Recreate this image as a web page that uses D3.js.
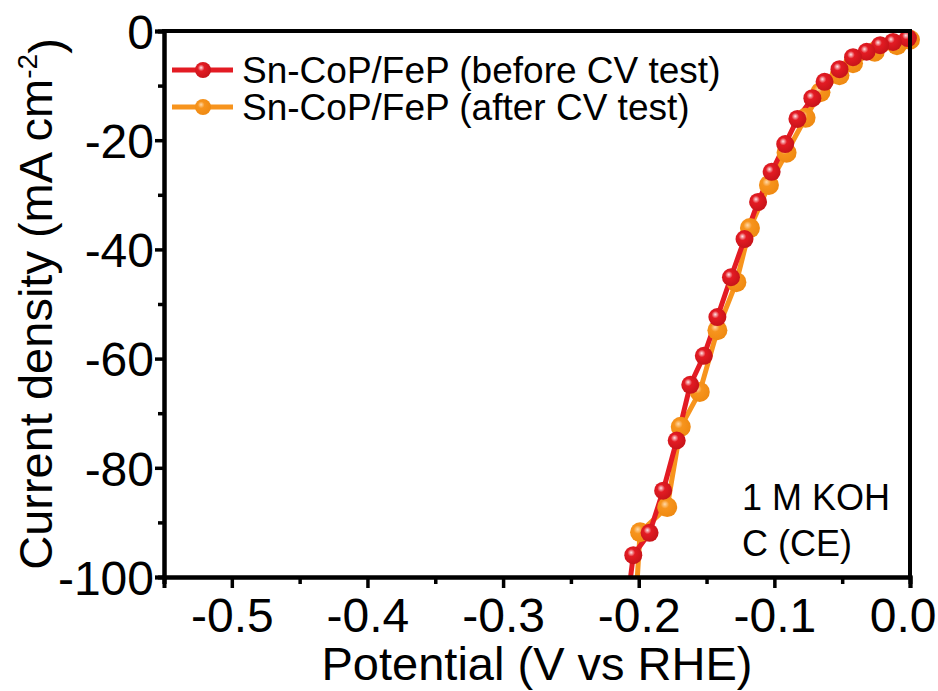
<!DOCTYPE html>
<html>
<head>
<meta charset="utf-8">
<script src="https://cdn.jsdelivr.net/npm/d3@7"></script>
<style>
  body { margin: 0; background: #fff; }
  svg text { font-family: Arial, "Liberation Sans", sans-serif; fill: #000; }
</style>
</head>
<body>
<div id="chart"></div>
<script>
const width = 938;
const height = 691;
const margin = { top: 31, right: 28, bottom: 114, left: 164 };

// Sn-CoP/FeP before CV test (markers), potential V vs RHE / current density mA cm-2
const beforeV = [-0.0015, -0.0125, -0.022, -0.032, -0.042, -0.052, -0.063, -0.072, -0.083, -0.092,
  -0.102, -0.112, -0.122, -0.132, -0.142, -0.152, -0.162, -0.172, -0.182, -0.192, -0.204];
const beforeJ = [-1.3, -2.0, -2.6, -3.8, -4.8, -7.0, -9.3, -12.3, -16.1, -20.7,
  -25.8, -31.3, -38.1, -45.1, -52.4, -59.5, -64.8, -75.0, -84.2, -91.9, -96.0];
const beforeEnd = [-0.206, -100];

// Sn-CoP/FeP after CV test
const afterV = [0.0, -0.0096, -0.026, -0.042, -0.052, -0.066, -0.077, -0.091, -0.104, -0.118,
  -0.128, -0.142, -0.155, -0.169, -0.179, -0.199];
const afterJ = [-1.6, -2.6, -3.8, -5.9, -8.1, -11.2, -15.9, -22.3, -28.2, -36.1,
  -46.0, -54.8, -66.1, -72.5, -87.2, -91.8];
const afterEnd = [-0.201, -100];

const xTicks = [-0.5, -0.4, -0.3, -0.2, -0.1, 0.0];
const yTicks = [0, -20, -40, -60, -80, -100];
const legendLabels = ["Sn-CoP/FeP (before CV test)", "Sn-CoP/FeP (after CV test)"];
const colors = ["#e31b23", "#f7941d"];

const svg = d3.select("#chart")
  .append("svg")
  .attr("width", width)
  .attr("height", height);

const defs = svg.append("defs");

function sphere(id, light, base, dark) {
  const g = defs.append("radialGradient")
    .attr("id", id)
    .attr("cx", "0.4").attr("cy", "0.4").attr("r", "0.6")
    .attr("fx", "0.38").attr("fy", "0.35");
  g.append("stop").attr("offset", "0%").attr("stop-color", light);
  g.append("stop").attr("offset", "35%").attr("stop-color", base);
  g.append("stop").attr("offset", "100%").attr("stop-color", dark);
}
sphere("redBall", "#ffe6e8", "#e31b23", "#c8141a");
sphere("orangeBall", "#ffd9a8", "#f7941d", "#ef8a12");

defs.append("clipPath").attr("id", "plotClip")
  .append("rect")
  .attr("x", margin.left - 20)
  .attr("y", margin.top - 20)
  .attr("width", width - margin.left - margin.right + 40)
  .attr("height", height - margin.top - margin.bottom + 20);

const x = d3.scaleLinear()
  .domain([-0.55, 0])
  .range([margin.left, width - margin.right]);

const y = d3.scaleLinear()
  .domain([-100, 0])
  .range([height - margin.bottom, margin.top]);

const line = d3.line()
  .x(d => x(d[0]))
  .y(d => y(d[1]));

const series = [
  { pts: d3.zip(afterV, afterJ), end: afterEnd, color: colors[1], grad: "orangeBall", r: 10 },
  { pts: d3.zip(beforeV, beforeJ), end: beforeEnd, color: colors[0], grad: "redBall", r: 9 }
];

const plot = svg.append("g").attr("clip-path", "url(#plotClip)");

series.forEach(s => {
  plot.append("path")
    .datum(s.pts.concat([s.end]))
    .attr("d", line)
    .attr("fill", "none")
    .attr("stroke", s.color)
    .attr("stroke-width", 5)
    .attr("stroke-linejoin", "round");
});

series.forEach(s => {
  plot.selectAll(null)
    .data(s.pts)
    .enter()
    .append("circle")
    .attr("cx", d => x(d[0]))
    .attr("cy", d => y(d[1]))
    .attr("r", s.r)
    .attr("fill", `url(#${s.grad})`);
});

// axes (hyphen minus like the original)
const hy = f => d => f(d).replace("\u2212", "-");
const xMinor = d3.range(-0.55, 0.001, 0.05).filter(v => !xTicks.some(t => Math.abs(t - v) < 1e-6));
const yMinor = d3.range(-90, 0, 20);

const xAxis = svg.append("g")
  .attr("transform", `translate(0,${height - margin.bottom})`)
  .call(d3.axisBottom(x).tickValues(xTicks).tickFormat(hy(d3.format(".1f"))).tickSize(11).tickPadding(10));
xAxis.append("g")
  .call(d3.axisBottom(x).tickValues(xMinor).tickFormat("").tickSize(7));

const yAxis = svg.append("g")
  .attr("transform", `translate(${margin.left},0)`)
  .call(d3.axisLeft(y).tickValues(yTicks).tickFormat(hy(d3.format("d"))).tickSize(9).tickPadding(1));
yAxis.append("g")
  .call(d3.axisLeft(y).tickValues(yMinor).tickFormat("").tickSize(6));

svg.selectAll(".domain").attr("stroke", "#000").attr("stroke-width", 4);
svg.selectAll(".tick line").attr("stroke", "#000").attr("stroke-width", 3.5);
svg.selectAll(".tick text")
  .style("font-size", "48px")
  .style("font-family", "Arial, 'Liberation Sans', sans-serif")
  .attr("fill", "#000");
yAxis.selectAll(".tick text").attr("dy", "0.36em");

// keep the 0.0 label inside the page
xAxis.selectAll(".tick text")
  .filter(d => d === 0)
  .attr("text-anchor", "end")
  .attr("x", width - 2 - x(0));

// frame top and right
svg.append("line")
  .attr("x1", margin.left).attr("x2", width - margin.right)
  .attr("y1", margin.top).attr("y2", margin.top)
  .attr("stroke", "#000").attr("stroke-width", 4).attr("stroke-linecap", "square");
svg.append("line")
  .attr("x1", width - margin.right).attr("x2", width - margin.right)
  .attr("y1", margin.top).attr("y2", height - margin.bottom)
  .attr("stroke", "#000").attr("stroke-width", 4).attr("stroke-linecap", "square");

// axis titles
svg.append("text")
  .attr("x", (margin.left + width - margin.right) / 2)
  .attr("y", 680)
  .attr("text-anchor", "middle")
  .style("font-size", "47px")
  .text("Potential (V vs RHE)");

const yTitle = svg.append("text")
  .attr("transform", `translate(52,${(margin.top + height - margin.bottom) / 2}) rotate(-90)`)
  .attr("text-anchor", "middle")
  .style("font-size", "47px");
yTitle.append("tspan").text("Current density (mA cm");
yTitle.append("tspan").attr("dy", "-0.55em").style("font-size", "28px").text("-2");
yTitle.append("tspan").attr("dy", "0.55em").text(")");

// legend
const legend = svg.append("g");
legendLabels.forEach((label, i) => {
  const ly = 70 + i * 37;
  const s = series[1 - i];
  legend.append("line")
    .attr("x1", 172).attr("x2", 233)
    .attr("y1", ly).attr("y2", ly)
    .attr("stroke", s.color).attr("stroke-width", 5);
  legend.append("circle")
    .attr("cx", 203).attr("cy", ly).attr("r", 8)
    .attr("fill", `url(#${s.grad})`);
  legend.append("text")
    .attr("x", 242).attr("y", ly + 13)
    .style("font-size", "37px")
    .text(label);
});

// annotation
const note = svg.append("text").style("font-size", "36px");
note.append("tspan").attr("x", 742).attr("y", 510).text("1 M KOH");
note.append("tspan").attr("x", 742).attr("y", 556).text("C (CE)");
</script>
</body>
</html>
